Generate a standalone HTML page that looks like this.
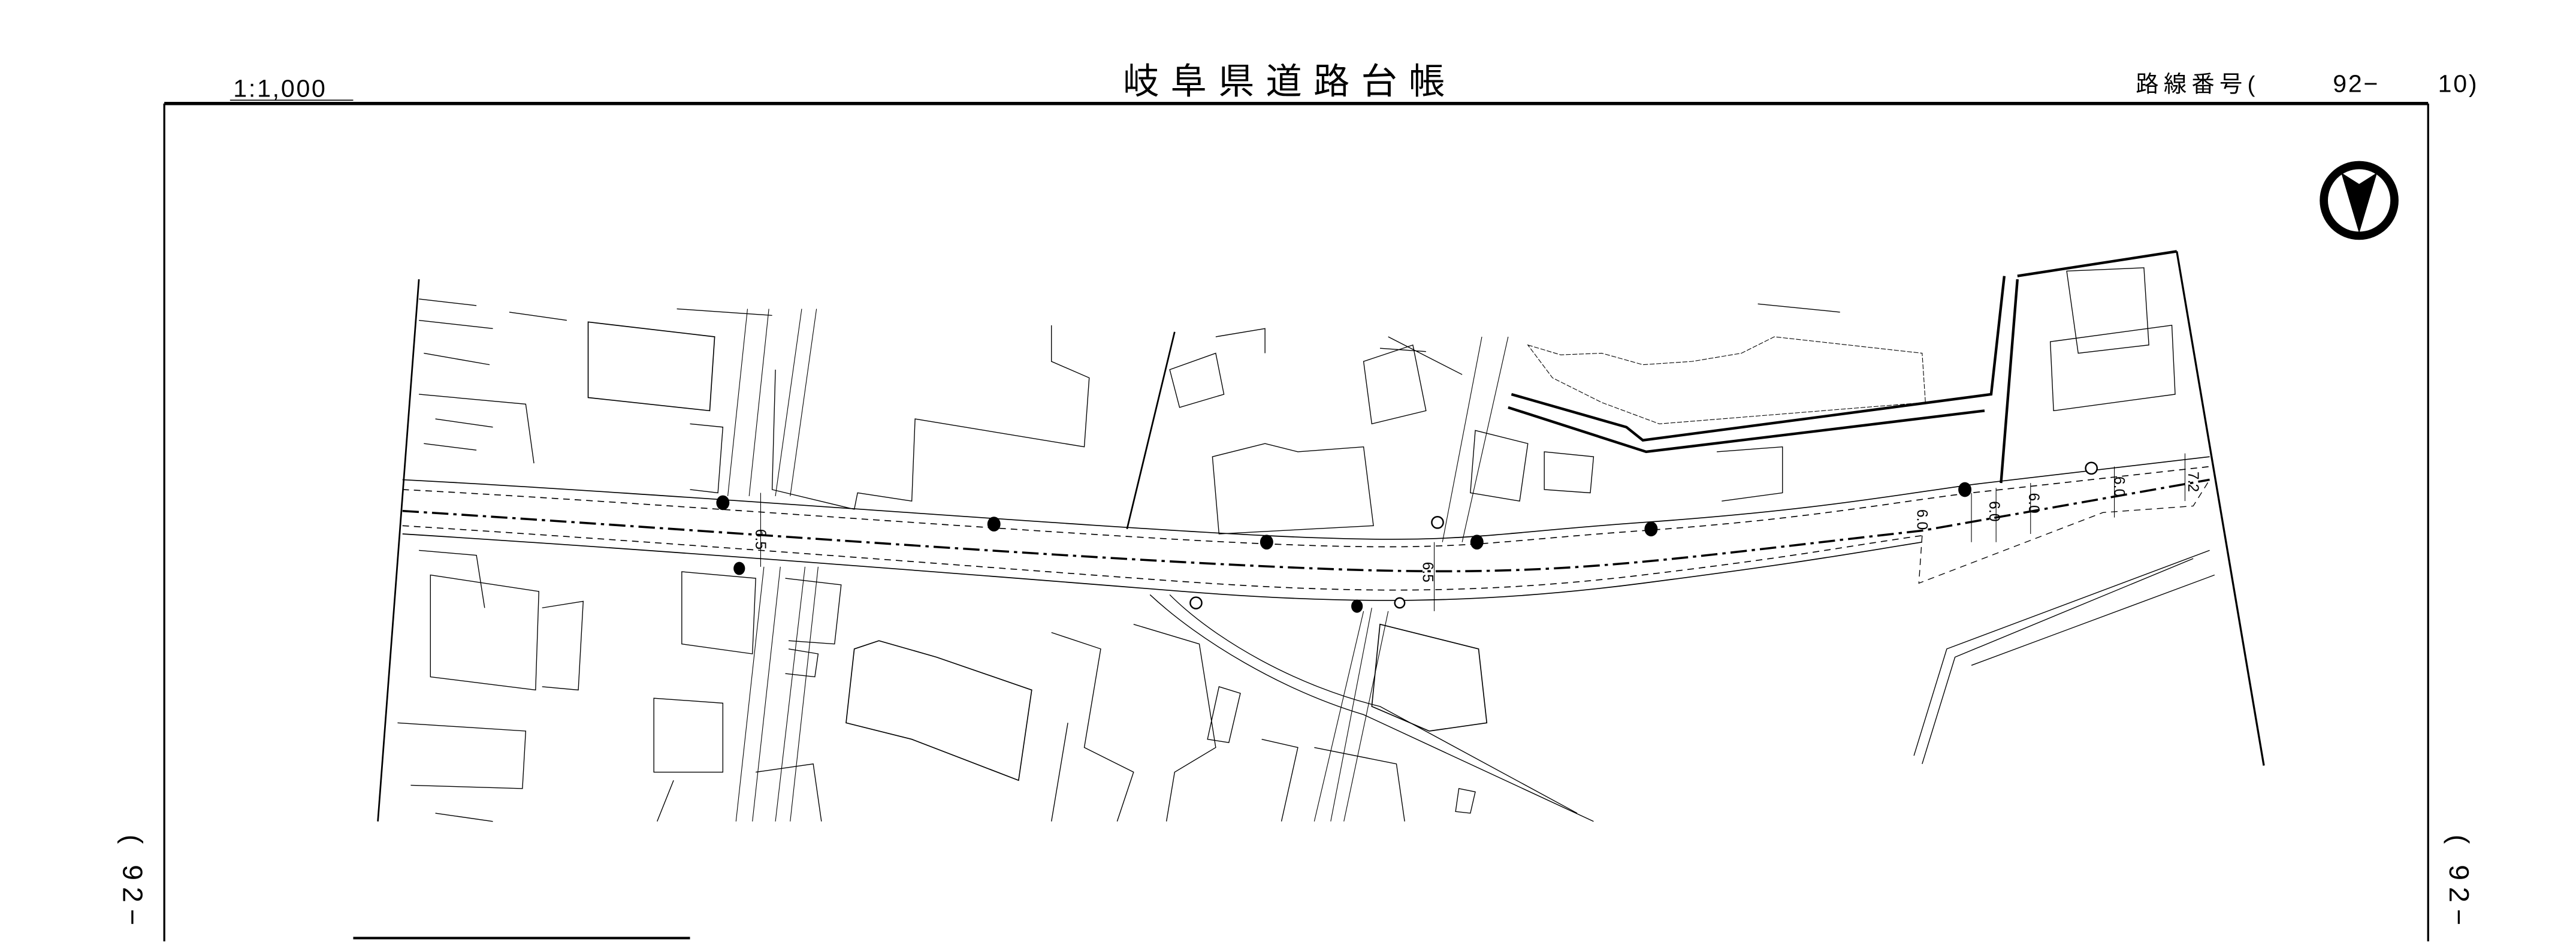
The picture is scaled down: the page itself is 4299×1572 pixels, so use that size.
<!DOCTYPE html>
<html><head><meta charset="utf-8"><style>
html,body{margin:0;padding:0;background:#fff;width:4299px;height:1572px;overflow:hidden}
svg{display:block}
text{font-family:"Liberation Sans","Noto Sans CJK JP",sans-serif;fill:#000}
</style></head><body>
<svg width="4299" height="1572" viewBox="0 0 1568 573.4" preserveAspectRatio="none" xmlns="http://www.w3.org/2000/svg">
<g fill="none" stroke="#000">
<path d="M100 63 H1478" stroke-width="2"/>
<path d="M100 63 V573 M1478 63 V573" stroke-width="1.2"/>
<path d="M215 571 H420" stroke-width="1.5"/>
<path d="M140 61 H215" stroke-width="0.6"/>
<path d="M255 170 L230 500" stroke-width="1"/>
<path d="M1325 153 L1378 466" stroke-width="1.2"/>
<path d="M245 292 C400 300 650 320 770 326 S 900 325 1000 318 S 1150 302 1200 295 L1345 278" stroke-width="0.6"/>
<path d="M245 298 C400 306 650 326 770 331 S 900 330 1000 323 S 1150 306 1200 300 L1345 284" stroke-width="0.6" stroke-dasharray="4 3"/>
<path d="M245 311 C420 322 650 340 800 346 S 1000 342 1170 323 L1345 292" stroke-width="1.3" stroke-dasharray="10 3 2 3"/>
<path d="M245 325 C420 336 620 352 720 360 S 900 368 1000 355 S 1120 338 1170 330" stroke-width="0.6"/>
<path d="M245 320 C420 331 620 347 720 354 S 900 362 1000 350 S 1120 333 1170 326" stroke-width="0.6" stroke-dasharray="4 3"/>
<path d="M1170 326 L1168 355 L1280 312 L1335 308 L1345 292" stroke-width="0.5" stroke-dasharray="4 3"/>
<path d="M1200 300 V330 M1215 297 V330 M1236 294 V325 M1287 284 V315 M1330 276 V305" stroke-width="0.4"/>
<path d="M1220 168 L1212 240 L1000 268 L990 260 L920 240" stroke-width="1.6"/>
<path d="M1228 170 L1218 294" stroke-width="1.6"/>
<path d="M1228 168 L1325 153" stroke-width="1.6"/>
<path d="M1208 250 L1002 275 L918 248" stroke-width="1.6"/>
<path d="M1258 165 L1305 163 L1308 210 L1265 215 Z M1248 208 L1322 198 L1324 240 L1250 250 Z" stroke-width="0.5"/>
<path d="M1345 335 L1185 395 L1165 460 M1335 340 L1190 400 L1170 465 M1348 350 L1200 405" stroke-width="0.5"/>
<path d="M255 195 L300 200 M258 215 L298 222 M255 240 L320 246 L325 282 M265 255 L300 260 M258 270 L290 274 M310 190 L345 195 M255 182 L290 186" stroke-width="0.5"/>
<path d="M358 196 L435 205 L432 250 L358 242 Z" stroke-width="0.6"/>
<path d="M412 188 L470 192 M420 258 L440 260 L437 300 L420 298" stroke-width="0.5"/>
<path d="M455 188 L443 302 M468 188 L456 302 M488 188 L472 302 M497 188 L481 302" stroke-width="0.4"/>
<path d="M472 225 L470 298 L520 310 L522 300 L555 305 L557 255 L660 272 L663 230 L640 220 L640 198" stroke-width="0.5"/>
<path d="M715 202 L686 322" stroke-width="1"/>
<path d="M712 225 L740 215 L745 240 L718 248 Z M740 205 L770 200 L770 215" stroke-width="0.5"/>
<path d="M738 278 L770 270 L790 275 L830 272 L836 320 L742 325 Z" stroke-width="0.5"/>
<path d="M830 220 L860 210 L868 250 L835 258 Z M845 205 L890 228 M840 212 L868 214" stroke-width="0.5"/>
<path d="M902 205 L878 330 M918 205 L890 330" stroke-width="0.4"/>
<path d="M898 262 L930 270 L925 305 L895 300 Z M940 275 L970 278 L968 300 L940 298 Z" stroke-width="0.5"/>
<path d="M930 210 L950 216 L975 215 L1000 222 L1030 220 L1060 215 L1080 205 L1170 215 L1172 245 L1010 258 L975 245 L945 230 Z" stroke-width="0.4" stroke-dasharray="3 1"/>
<path d="M1070 185 L1120 190 M1045 275 L1085 272 L1085 300 L1048 305" stroke-width="0.5"/>
<path d="M255 335 L290 338 L295 370 M262 350 L328 360 L326 420 L262 412 Z M330 370 L355 366 L352 420 L330 418" stroke-width="0.5"/>
<path d="M242 440 L320 445 L318 480 L250 478 M265 495 L300 500" stroke-width="0.5"/>
<path d="M398 425 L440 428 L440 470 L398 470 Z" stroke-width="0.5"/>
<path d="M415 348 L460 352 L458 398 L415 392 Z M478 352 L512 356 L508 392 L480 390 M480 395 L498 398 L496 412 L478 410" stroke-width="0.5"/>
<path d="M465 345 L448 500 M475 345 L458 500 M490 345 L472 500 M498 345 L481 500" stroke-width="0.4"/>
<path d="M520 395 L535 390 L570 400 L628 420 L620 475 L555 450 L515 440 Z" stroke-width="0.6"/>
<path d="M460 470 L495 465 L500 500 M410 475 L400 500" stroke-width="0.5"/>
<path d="M640 385 L670 395 L660 455 L690 470 L680 500 M650 440 L640 500" stroke-width="0.5"/>
<path d="M690 380 L730 392 L740 455 L715 470 L710 500" stroke-width="0.5"/>
<path d="M700 362 C730 390 780 420 830 435 L970 500 M712 362 C740 390 790 418 840 430 L960 495" stroke-width="0.5"/>
<path d="M835 370 L810 500 M830 372 L800 500 M845 372 L818 500" stroke-width="0.4"/>
<path d="M840 380 L900 395 L905 440 L870 445 L835 430 Z" stroke-width="0.6"/>
<path d="M742 418 L755 422 L748 452 L735 450 Z M800 455 L850 465 L855 500 M768 450 L790 455 L780 500 M888 480 L898 482 L895 495 L886 494 Z" stroke-width="0.5"/>
<path d="M463 300 V345 M873 330 V372" stroke-width="0.4"/>
</g>
<g fill="#000">
<ellipse cx="440" cy="306" rx="4" ry="4.5"/>
<ellipse cx="605" cy="319" rx="4" ry="4.5"/>
<ellipse cx="771" cy="330" rx="4" ry="4.5"/>
<ellipse cx="899" cy="330" rx="4" ry="4.5"/>
<ellipse cx="1005" cy="322" rx="4" ry="4.5"/>
<ellipse cx="1196" cy="298" rx="4" ry="4.5"/>
<ellipse cx="450" cy="346" rx="3.5" ry="4"/>
<ellipse cx="826" cy="369" rx="3.5" ry="4"/>
</g>
<g fill="#fff" stroke="#000" stroke-width="0.9">
<circle cx="875" cy="318" r="3.5"/>
<circle cx="728" cy="367" r="3.5"/>
<circle cx="1273" cy="285" r="3.5"/>
<circle cx="852" cy="367" r="3"/>
</g>
<g font-size="9">
<text transform="translate(460 322) rotate(90)">6.5</text>
<text transform="translate(866 342) rotate(90)">6.5</text>
<text transform="translate(1167 310) rotate(90)">6.0</text>
<text transform="translate(1211 305) rotate(90)">6.0</text>
<text transform="translate(1235 300) rotate(90)">6.0</text>
<text transform="translate(1287 290) rotate(90)">6.0</text>
<text transform="translate(1332 287) rotate(90)">7.2</text>
</g>
<circle cx="1436" cy="122" r="24" fill="#000"/>
<circle cx="1436" cy="122" r="19" fill="#fff"/>
<path d="M1425 105 L1436 142 L1447 105 L1436 112 Z" fill="#000"/>
<text x="142" y="59" font-size="15" letter-spacing="1">1:1,000</text>
<text x="785" y="57" font-size="22" text-anchor="middle" letter-spacing="7">岐阜県道路台帳</text>
<text x="1300" y="56" font-size="14" letter-spacing="3">路線番号(</text>
<text x="1420" y="56" font-size="15" letter-spacing="1">92−</text>
<text x="1484" y="56" font-size="15" letter-spacing="1">10)</text>
<text transform="translate(75 508) rotate(90)" font-size="17" letter-spacing="4">( 92−</text>
<text transform="translate(1491 508) rotate(90)" font-size="17" letter-spacing="4">( 92−</text>
</svg>
</body></html>
